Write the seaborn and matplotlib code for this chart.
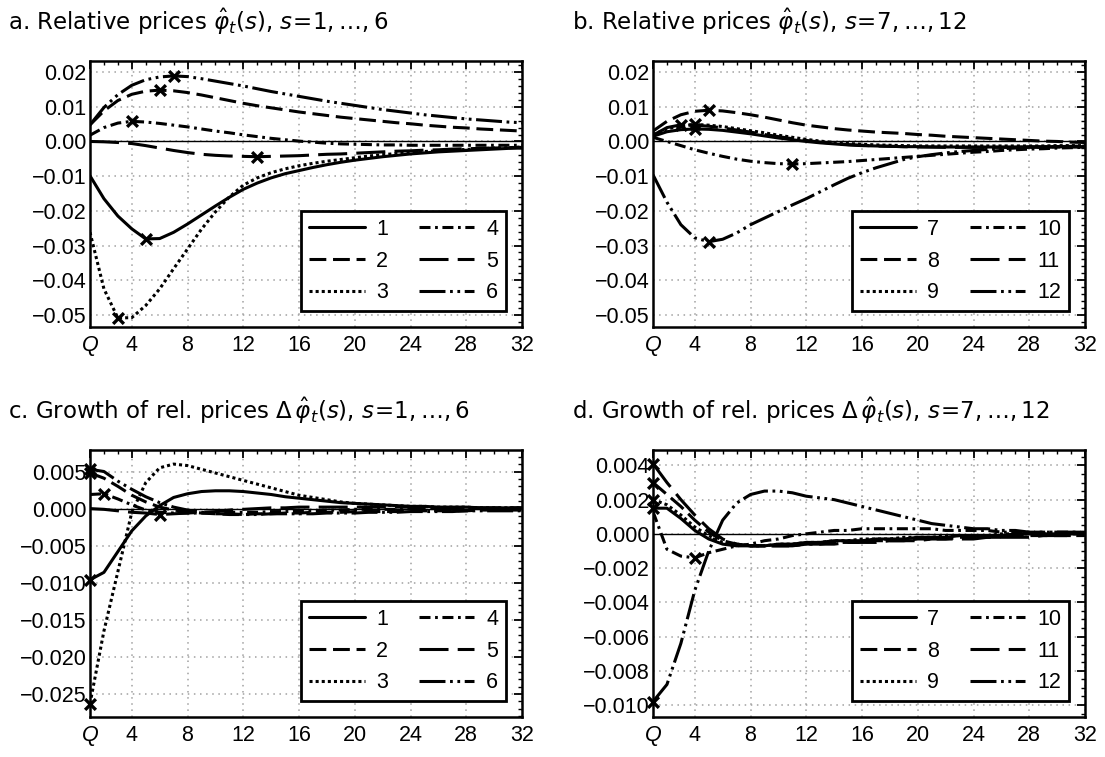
import matplotlib

matplotlib.use("Agg")
import matplotlib.pyplot as plt
import numpy as np
import pandas as pd
import seaborn as sns
from matplotlib.ticker import FixedLocator, FuncFormatter, MultipleLocator

QUARTERS = list(range(1, 33))
X_TICKS = [1, 4, 8, 12, 16, 20, 24, 28, 32]
X_TICK_LABELS = ["Q", "4", "8", "12", "16", "20", "24", "28", "32"]

# panel a: relative prices, sectors 1-6
PRICE_1 = [-0.0099, -0.0165, -0.0215, -0.0252, -0.0281, -0.0280, -0.0262, -0.0238,
           -0.0212, -0.0186, -0.0161, -0.0138, -0.0120, -0.0105, -0.0093, -0.0084,
           -0.0075, -0.0067, -0.0060, -0.0054, -0.0049, -0.0044, -0.0040, -0.0036,
           -0.0033, -0.0030, -0.0028, -0.0026, -0.0024, -0.0022, -0.0020, -0.0019]
PRICE_2 = [0.0048, 0.0088, 0.0118, 0.0136, 0.0145, 0.0148, 0.0146, 0.0141,
           0.0134, 0.0126, 0.0118, 0.0110, 0.0103, 0.0097, 0.0091, 0.0085,
           0.0080, 0.0075, 0.0070, 0.0066, 0.0062, 0.0058, 0.0054, 0.0051,
           0.0047, 0.0044, 0.0041, 0.0039, 0.0036, 0.0034, 0.0032, 0.0030]
PRICE_3 = [-0.0262, -0.0425, -0.0509, -0.0508, -0.0473, -0.0425, -0.0367, -0.0310,
           -0.0253, -0.0203, -0.0160, -0.0126, -0.0105, -0.0090, -0.0079, -0.0070,
           -0.0063, -0.0057, -0.0052, -0.0047, -0.0042, -0.0038, -0.0035, -0.0032,
           -0.0029, -0.0027, -0.0025, -0.0023, -0.0021, -0.0019, -0.0018, -0.0016]
PRICE_4 = [0.0018, 0.0040, 0.0053, 0.0058, 0.0056, 0.0052, 0.0047, 0.0042,
           0.0036, 0.0030, 0.0025, 0.0019, 0.0014, 0.0009, 0.0005, 0.0001,
           -0.0002, -0.0005, -0.0007, -0.0008, -0.0009, -0.0010, -0.0010, -0.0011,
           -0.0011, -0.0011, -0.0011, -0.0011, -0.0011, -0.0011, -0.0011, -0.0011]
PRICE_5 = [0.0000, -0.0001, -0.0003, -0.0006, -0.0012, -0.0019, -0.0026, -0.0032,
           -0.0037, -0.0040, -0.0042, -0.0043, -0.0044, -0.0043, -0.0042, -0.0041,
           -0.0039, -0.0037, -0.0036, -0.0034, -0.0032, -0.0030, -0.0028, -0.0027,
           -0.0025, -0.0024, -0.0022, -0.0021, -0.0020, -0.0019, -0.0018, -0.0017]
PRICE_6 = [0.0048, 0.0098, 0.0135, 0.0162, 0.0178, 0.0186, 0.0189, 0.0187,
           0.0181, 0.0174, 0.0167, 0.0160, 0.0152, 0.0144, 0.0137, 0.0130,
           0.0123, 0.0116, 0.0110, 0.0104, 0.0098, 0.0092, 0.0087, 0.0082,
           0.0077, 0.0073, 0.0069, 0.0065, 0.0062, 0.0059, 0.0056, 0.0054]

# panel b: relative prices, sectors 7-12
PRICE_7 = [0.0015, 0.0028, 0.0034, 0.0036, 0.0035, 0.0032, 0.0027, 0.0022,
           0.0016, 0.0010, 0.0005, 0.0000, -0.0004, -0.0007, -0.0010, -0.0012,
           -0.0013, -0.0014, -0.0015, -0.0015, -0.0016, -0.0016, -0.0016, -0.0016,
           -0.0016, -0.0016, -0.0016, -0.0015, -0.0015, -0.0015, -0.0015, -0.0015]
PRICE_8 = [0.0030, 0.0058, 0.0077, 0.0087, 0.0090, 0.0088, 0.0083, 0.0077,
           0.0070, 0.0062, 0.0054, 0.0047, 0.0042, 0.0037, 0.0033, 0.0030,
           0.0027, 0.0025, 0.0023, 0.0020, 0.0018, 0.0015, 0.0013, 0.0011,
           0.0009, 0.0007, 0.0005, 0.0003, 0.0001, 0.0000, -0.0002, -0.0003]
PRICE_9 = [0.0020, 0.0036, 0.0045, 0.0049, 0.0047, 0.0043, 0.0037, 0.0031,
           0.0025, 0.0018, 0.0012, 0.0006, 0.0001, -0.0003, -0.0006, -0.0008,
           -0.0010, -0.0011, -0.0012, -0.0013, -0.0013, -0.0013, -0.0013, -0.0013,
           -0.0013, -0.0013, -0.0013, -0.0013, -0.0013, -0.0012, -0.0012, -0.0012]
PRICE_10 = [0.0012, 0.0000, -0.0012, -0.0024, -0.0034, -0.0043, -0.0051, -0.0057,
            -0.0061, -0.0064, -0.0065, -0.0064, -0.0062, -0.0060, -0.0058, -0.0055,
            -0.0052, -0.0049, -0.0046, -0.0043, -0.0040, -0.0037, -0.0034, -0.0031,
            -0.0029, -0.0026, -0.0024, -0.0022, -0.0021, -0.0019, -0.0018, -0.0017]
PRICE_11 = [0.0018, 0.0040, 0.0048, 0.0047, 0.0044, 0.0039, 0.0033, 0.0027,
            0.0020, 0.0014, 0.0008, 0.0003, -0.0002, -0.0006, -0.0009, -0.0011,
            -0.0013, -0.0014, -0.0015, -0.0016, -0.0016, -0.0017, -0.0017, -0.0017,
            -0.0017, -0.0017, -0.0017, -0.0017, -0.0017, -0.0016, -0.0016, -0.0016]
PRICE_12 = [-0.0096, -0.0175, -0.0240, -0.0278, -0.0289, -0.0282, -0.0264, -0.0240,
            -0.0221, -0.0202, -0.0183, -0.0165, -0.0145, -0.0125, -0.0106, -0.0090,
            -0.0076, -0.0064, -0.0052, -0.0044, -0.0038, -0.0033, -0.0029, -0.0026,
            -0.0023, -0.0021, -0.0019, -0.0017, -0.0016, -0.0015, -0.0014, -0.0013]

# panel c: growth of relative prices, sectors 1-6
GROWTH_1 = [-0.0096, -0.0086, -0.0058, -0.0030, -0.0010, 0.0004, 0.0015, 0.0020,
            0.0023, 0.0024, 0.0024, 0.0023, 0.0021, 0.0019, 0.0016, 0.0014,
            0.0012, 0.0010, 0.0008, 0.0007, 0.0006, 0.0005, 0.0004, 0.0003,
            0.0003, 0.0002, 0.0002, 0.0002, 0.0001, 0.0001, 0.0001, 0.0001]
GROWTH_2 = [0.0048, 0.0041, 0.0030, 0.0018, 0.0009, 0.0002, -0.0002, -0.0004,
            -0.0006, -0.0007, -0.0008, -0.0008, -0.0007, -0.0007, -0.0006, -0.0006,
            -0.0005, -0.0005, -0.0005, -0.0004, -0.0004, -0.0004, -0.0004, -0.0003,
            -0.0003, -0.0003, -0.0003, -0.0003, -0.0002, -0.0002, -0.0002, -0.0002]
GROWTH_3 = [-0.0263, -0.0165, -0.0085, -0.0005, 0.0035, 0.0055, 0.0060, 0.0058,
            0.0053, 0.0048, 0.0043, 0.0038, 0.0033, 0.0028, 0.0023, 0.0018,
            0.0015, 0.0012, 0.0009, 0.0007, 0.0006, 0.0005, 0.0004, 0.0003,
            0.0003, 0.0002, 0.0002, 0.0002, 0.0001, 0.0001, 0.0001, 0.0001]
GROWTH_4 = [0.0019, 0.0020, 0.0013, 0.0005, -0.0002, -0.0005, -0.0006, -0.0006,
            -0.0006, -0.0006, -0.0005, -0.0005, -0.0005, -0.0004, -0.0004, -0.0003,
            -0.0003, -0.0002, -0.0002, -0.0001, -0.0001, -0.0001, -0.0001, 0.0000,
            0.0000, 0.0000, 0.0000, 0.0000, 0.0000, 0.0000, 0.0000, 0.0000]
GROWTH_5 = [0.0000, -0.0001, -0.0003, -0.0005, -0.0006, -0.0008, -0.0007, -0.0006,
            -0.0005, -0.0004, -0.0002, -0.0001, 0.0000, 0.0001, 0.0001, 0.0002,
            0.0002, 0.0002, 0.0002, 0.0002, 0.0002, 0.0002, 0.0002, 0.0002,
            0.0001, 0.0001, 0.0001, 0.0001, 0.0001, 0.0001, 0.0001, 0.0001]
GROWTH_6 = [0.0053, 0.0050, 0.0037, 0.0026, 0.0016, 0.0008, 0.0002, -0.0002,
            -0.0005, -0.0007, -0.0007, -0.0008, -0.0008, -0.0007, -0.0007, -0.0007,
            -0.0007, -0.0006, -0.0006, -0.0006, -0.0005, -0.0005, -0.0005, -0.0004,
            -0.0004, -0.0004, -0.0004, -0.0003, -0.0003, -0.0003, -0.0003, -0.0003]

# panel d: growth of relative prices, sectors 7-12
GROWTH_7 = [0.0015, 0.0015, 0.0009, 0.0002, -0.0003, -0.0006, -0.0007, -0.0007,
            -0.0007, -0.0006, -0.0006, -0.0005, -0.0005, -0.0004, -0.0004, -0.0004,
            -0.0003, -0.0003, -0.0003, -0.0002, -0.0002, -0.0002, -0.0001, -0.0001,
            -0.0001, -0.0001, 0.0000, 0.0000, 0.0000, 0.0000, 0.0000, 0.0000]
GROWTH_8 = [0.0030, 0.0023, 0.0016, 0.0008, 0.0001, -0.0004, -0.0006, -0.0007,
            -0.0007, -0.0007, -0.0007, -0.0006, -0.0006, -0.0005, -0.0005, -0.0005,
            -0.0004, -0.0004, -0.0004, -0.0003, -0.0003, -0.0003, -0.0002, -0.0002,
            -0.0002, -0.0002, -0.0001, -0.0001, -0.0001, -0.0001, -0.0001, 0.0000]
GROWTH_9 = [0.0020, 0.0017, 0.0011, 0.0004, -0.0001, -0.0005, -0.0006, -0.0007,
            -0.0007, -0.0006, -0.0006, -0.0005, -0.0005, -0.0004, -0.0004, -0.0003,
            -0.0003, -0.0003, -0.0002, -0.0002, -0.0002, -0.0001, -0.0001, -0.0001,
            -0.0001, 0.0000, 0.0000, 0.0000, 0.0000, 0.0000, 0.0000, 0.0000]
GROWTH_10 = [0.0013, -0.0009, -0.0013, -0.0014, -0.0011, -0.0009, -0.0007, -0.0006,
             -0.0004, -0.0003, -0.0001, 0.0000, 0.0001, 0.0002, 0.0002, 0.0003,
             0.0003, 0.0003, 0.0003, 0.0003, 0.0003, 0.0002, 0.0002, 0.0002,
             0.0002, 0.0001, 0.0001, 0.0001, 0.0001, 0.0001, 0.0001, 0.0001]
GROWTH_11 = [0.0041, 0.0030, 0.0020, 0.0011, 0.0003, -0.0003, -0.0006, -0.0007,
             -0.0007, -0.0007, -0.0007, -0.0006, -0.0006, -0.0006, -0.0005, -0.0005,
             -0.0005, -0.0004, -0.0004, -0.0004, -0.0003, -0.0003, -0.0003, -0.0003,
             -0.0002, -0.0002, -0.0002, -0.0002, -0.0001, -0.0001, -0.0001, -0.0001]
GROWTH_12 = [-0.0098, -0.0088, -0.0064, -0.0033, -0.0010, 0.0008, 0.0018, 0.0023,
             0.0025, 0.0025, 0.0024, 0.0022, 0.0021, 0.0020, 0.0018, 0.0016,
             0.0014, 0.0012, 0.0010, 0.0008, 0.0006, 0.0005, 0.0004, 0.0003,
             0.0003, 0.0002, 0.0002, 0.0001, 0.0001, 0.0001, 0.0001, 0.0001]

# quarter at which each sector's extremum is marked with a cross
PEAKS_A = [5, 6, 3, 4, 13, 7]
PEAKS_B = [4, 5, 4, 11, 3, 5]
PEAKS_C = [1, 1, 1, 2, 6, 1]
PEAKS_D = [1, 1, 1, 4, 1, 1]

TITLES = [
    r"a. Relative prices $\hat{\varphi}_t(s)$, $s\!=\!1,\ldots,6$",
    r"b. Relative prices $\hat{\varphi}_t(s)$, $s\!=\!7,\ldots,12$",
    r"c. Growth of rel. prices $\Delta\,\hat{\varphi}_t(s)$, $s\!=\!1,\ldots,6$",
    r"d. Growth of rel. prices $\Delta\,\hat{\varphi}_t(s)$, $s\!=\!7,\ldots,12$",
]

DASHES = ["", (5.5, 2.2), (1.0, 1.0), (3.6, 1.5, 0.9, 1.5), (9.5, 3.0),
          (8.5, 1.5, 0.9, 1.5, 0.9, 1.5)]

W, H = 1105, 757
LW = 2.2


def long_frame(series, names):
    rows = []
    for name, vals in zip(names, series):
        rows.append(pd.DataFrame({"quarter": QUARTERS, "value": vals, "sector": name}))
    return pd.concat(rows, ignore_index=True)


def draw_panel(ax, series, names, peaks, ylim, yminor, ticks, decimals):
    df = long_frame(series, names)
    sns.lineplot(data=df, x="quarter", y="value", style="sector", style_order=names,
                 dashes=dict(zip(names, DASHES)), color="black", linewidth=LW,
                 ax=ax, legend="full", zorder=3)
    handles, labels = ax.get_legend_handles_labels()
    ax.axhline(0, color="black", linewidth=1.0, zorder=2)

    py = [vals[p - 1] for vals, p in zip(series, peaks)]
    sns.scatterplot(x=peaks, y=py, marker="x", s=60, color="black", linewidth=2.4,
                    ax=ax, legend=False, zorder=5, clip_on=False)

    ax.set_xlim(1, 32)
    ax.set_ylim(*ylim)
    ax.xaxis.set_major_locator(FixedLocator(X_TICKS))
    ax.set_xticklabels(X_TICK_LABELS)
    ax.get_xticklabels()[0].set_fontstyle("italic")
    ax.xaxis.set_minor_locator(MultipleLocator(1))
    ax.yaxis.set_major_locator(FixedLocator(ticks))
    ax.yaxis.set_minor_locator(MultipleLocator(yminor))
    ax.yaxis.set_major_formatter(
        FuncFormatter(lambda v, _: f"{round(v, decimals) + 0:.{decimals}f}".replace("-", "\u2212")))
    ax.set_xlabel("")
    ax.set_ylabel("")
    ax.grid(True, which="major", color="#a0a0a0", linestyle=(0, (1, 3)), linewidth=1.1)
    ax.tick_params(which="both", direction="in", top=True, right=True,
                   labelsize=15.5, colors="black")
    ax.tick_params(axis="x", which="major", pad=6)
    ax.tick_params(axis="y", which="major", pad=2.5)
    ax.tick_params(which="major", length=6, width=1.3)
    ax.tick_params(which="minor", length=3, width=1.0)
    for lab in ax.get_xticklabels() + ax.get_yticklabels():
        lab.set_fontfamily("Liberation Sans")
    for sp in ax.spines.values():
        sp.set_linewidth(1.8)
        sp.set_color("black")

    leg = ax.legend(handles, labels, ncol=2, loc="lower right", frameon=True,
                    fancybox=False, framealpha=1, edgecolor="black",
                    prop={"family": "Liberation Sans", "size": 15.5},
                    handlelength=2.6, handletextpad=0.55, columnspacing=1.4,
                    labelspacing=0.5, borderpad=0.35, borderaxespad=0.75)
    leg.get_frame().set_linewidth(2.0)
    for line in leg.get_lines():
        line.set_linewidth(LW)


def main():
    sns.set_style("white")
    plt.rcParams["font.family"] = ["DejaVu Sans"]
    plt.rcParams["mathtext.fontset"] = "dejavusans"
    plt.rcParams["axes.unicode_minus"] = True
    for key in ("text.color", "axes.labelcolor", "xtick.color", "ytick.color"):
        plt.rcParams[key] = "black"

    fig = plt.figure(figsize=(W / 100, H / 100), dpi=100)

    boxes = [(90, 61, 522, 327), (653, 61, 1085, 327),
             (90, 450, 522, 717), (653, 450, 1085, 717)]
    axes = []
    for (x0, y0, x1, y1) in boxes:
        axes.append(fig.add_axes([x0 / W, 1 - y1 / H, (x1 - x0) / W, (y1 - y0) / H]))

    names_lo = ["1", "2", "3", "4", "5", "6"]
    names_hi = ["7", "8", "9", "10", "11", "12"]
    ticks_ab = [0.02, 0.01, 0.0, -0.01, -0.02, -0.03, -0.04, -0.05]
    ticks_c = [0.005, 0.0, -0.005, -0.010, -0.015, -0.020, -0.025]
    ticks_d = [0.004, 0.002, 0.0, -0.002, -0.004, -0.006, -0.008, -0.010]

    draw_panel(axes[0], [PRICE_1, PRICE_2, PRICE_3, PRICE_4, PRICE_5, PRICE_6],
               names_lo, PEAKS_A, (-0.0535, 0.0232), 0.002, ticks_ab, 2)
    draw_panel(axes[1], [PRICE_7, PRICE_8, PRICE_9, PRICE_10, PRICE_11, PRICE_12],
               names_hi, PEAKS_B, (-0.0535, 0.0232), 0.002, ticks_ab, 2)
    draw_panel(axes[2], [GROWTH_1, GROWTH_2, GROWTH_3, GROWTH_4, GROWTH_5, GROWTH_6],
               names_lo, PEAKS_C, (-0.0281, 0.0079), 0.001, ticks_c, 3)
    draw_panel(axes[3], [GROWTH_7, GROWTH_8, GROWTH_9, GROWTH_10, GROWTH_11, GROWTH_12],
               names_hi, PEAKS_D, (-0.0107, 0.0049), 0.0005, ticks_d, 3)

    title_pos = [(8, 30), (572, 30), (8, 419), (572, 419)]
    for (tx, ty), title in zip(title_pos, TITLES):
        fig.text(tx / W, 1 - ty / H, title, fontsize=16.5, va="baseline", ha="left",
                 family="DejaVu Sans")

    fig.savefig("out.png", dpi=100)
    plt.close(fig)


if __name__ == "__main__":
    main()
